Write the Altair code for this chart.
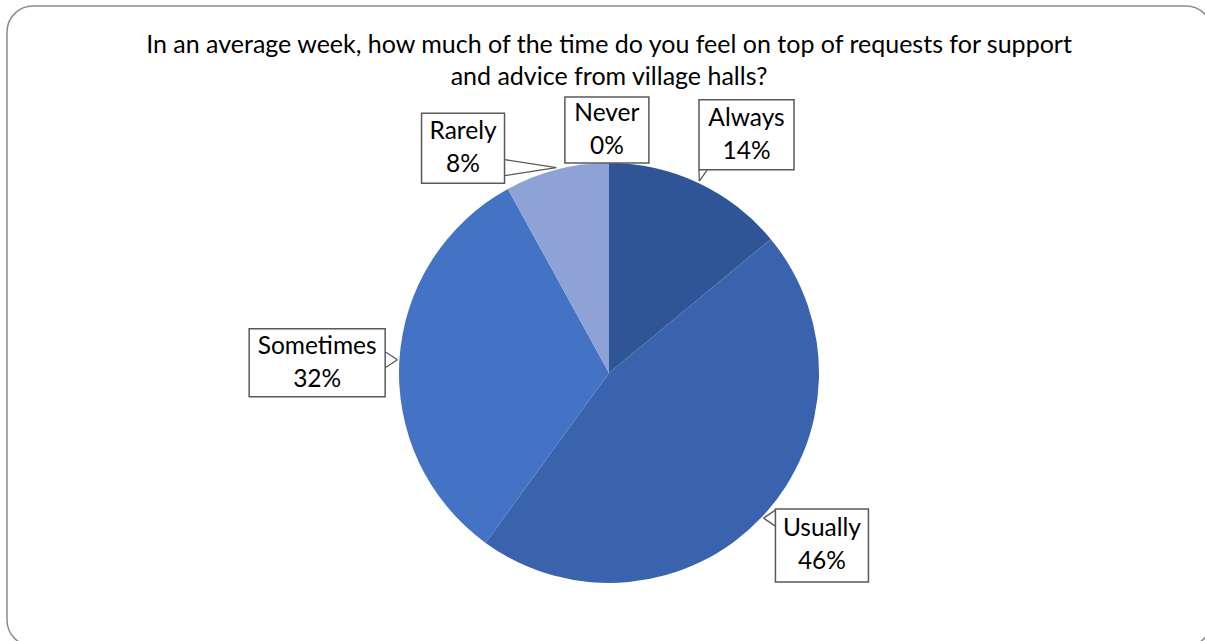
import math
import altair as alt
import pandas as pd

# ---- data ----
categories = ["Always", "Usually", "Sometimes", "Rarely", "Never"]
values = [14, 46, 32, 8, 0]
pct_labels = ["14%", "46%", "32%", "8%", "0%"]
colors = ["#2F5597", "#3A63AD", "#4472C4", "#8FA2D6", "#A9B8E0"]
title_lines = [
    "In an average week, how much of the time do you feel on top of requests for support",
    "and advice from village halls?",
]

# ---- layout (page pixels) ----
W, H = 1205, 641
PAD_L, PAD_T = 7, 6
VIEW_W, VIEW_H = W - PAD_L, H - PAD_T
CX, CY, R = 609, 373, 210
FONT = "Lato"
FS = 24.5
FS_TITLE = 25
# label placement: polar angle (deg, clockwise from 12 o'clock), distance, box w, box h
label_layout = {
    "Always": (30, 275, 95, 70),
    "Usually": (129, 274, 93, 73),
    "Sometimes": (272, 292, 136, 68),
    "Rarely": (327, 268, 83, 70),
    "Never": (359.5, 243, 84, 66),
}
leader_for = ["Always", "Usually", "Sometimes", "Rarely"]

df = pd.DataFrame({"category": categories, "value": values, "pct": pct_labels,
                   "idx": list(range(len(categories)))})

total = sum(values)
rows_box, rows_lead = [], []
cum = 0
for c, v, p in zip(categories, values, pct_labels):
    mid = (cum + v / 2) / total * 2 * math.pi
    cum += v
    ang, dist, bw, bh = label_layout[c]
    a = math.radians(ang)
    bx = CX + dist * math.sin(a) - PAD_L
    by = CY - dist * math.cos(a) - PAD_T
    rows_box.append({"category": c, "pct": p, "x1": bx - bw / 2, "x2": bx + bw / 2,
                     "y1": by - bh / 2, "y2": by + bh / 2, "cx": bx,
                     "ty1": by - 16, "ty2": by + 17})
    if c in leader_for:
        ax = CX + (R + 2) * math.sin(mid) - PAD_L
        ay = CY - (R + 2) * math.cos(mid) - PAD_T
        px = min(max(ax, bx - bw / 2), bx + bw / 2)
        py = min(max(ay, by - bh / 2), by + bh / 2)
        if px in (bx - bw / 2, bx + bw / 2):
            b1 = (px, min(max(py - 8, by - bh / 2), by + bh / 2))
            b2 = (px, min(max(py + 8, by - bh / 2), by + bh / 2))
        else:
            b1 = (min(max(px - 8, bx - bw / 2), bx + bw / 2), py)
            b2 = (min(max(px + 8, bx - bw / 2), bx + bw / 2), py)
        for b in (b1, b2):
            rows_lead.append({"category": c, "x1": b[0], "y1": b[1], "x2": ax, "y2": ay})

boxes = pd.DataFrame(rows_box)
leads = pd.DataFrame(rows_lead)

frame = alt.Chart(pd.DataFrame({"f": [0]})).mark_rect(
    fill=None, stroke="#8C8C8C", strokeWidth=1.5, cornerRadius=26
).encode(
    x=alt.value(0), x2=alt.value(1212 - PAD_L),
    y=alt.value(0), y2=alt.value(646 - PAD_T),
)

pie = alt.Chart(df).mark_arc(outerRadius=R, strokeWidth=0).encode(
    theta=alt.Theta("value:Q", stack=True),
    color=alt.Color("category:N", scale=alt.Scale(domain=categories, range=colors), legend=None),
    order=alt.Order("idx:Q"),
    x=alt.value(CX - PAD_L),
    y=alt.value(CY - PAD_T),
)

lead = alt.Chart(leads).mark_rule(color="#595959", strokeWidth=1.3).encode(
    x=alt.X("x1:Q", scale=None), y=alt.Y("y1:Q", scale=None),
    x2="x2:Q", y2="y2:Q",
)

box = alt.Chart(boxes).mark_rect(fill="white", stroke="#595959", strokeWidth=1.5).encode(
    x=alt.X("x1:Q", scale=None), x2="x2:Q",
    y=alt.Y("y1:Q", scale=None), y2="y2:Q",
)

name_txt = alt.Chart(boxes).mark_text(font=FONT, fontSize=FS, color="#000000", baseline="middle").encode(
    x=alt.X("cx:Q", scale=None), y=alt.Y("ty1:Q", scale=None), text="category:N",
)
pct_txt = alt.Chart(boxes).mark_text(font=FONT, fontSize=FS, color="#000000", baseline="middle").encode(
    x=alt.X("cx:Q", scale=None), y=alt.Y("ty2:Q", scale=None), text="pct:N",
)

title_df = pd.DataFrame({"line": title_lines, "tx": [CX - PAD_L] * 2, "ty": [45 - PAD_T, 77 - PAD_T]})
title_txt = alt.Chart(title_df).mark_text(font=FONT, fontSize=FS_TITLE, color="#000000", baseline="middle").encode(
    x=alt.X("tx:Q", scale=None), y=alt.Y("ty:Q", scale=None), text="line:N",
)

chart = alt.layer(frame, pie, lead, box, name_txt, pct_txt, title_txt).properties(
    width=VIEW_W, height=VIEW_H,
    padding={"left": PAD_L, "top": PAD_T, "right": 0, "bottom": 0},
    autosize=alt.AutoSizeParams(type="none"),
    background="white",
).configure_view(stroke=None)

chart.save("out.html", embed_options={"renderer": "svg", "actions": False})
